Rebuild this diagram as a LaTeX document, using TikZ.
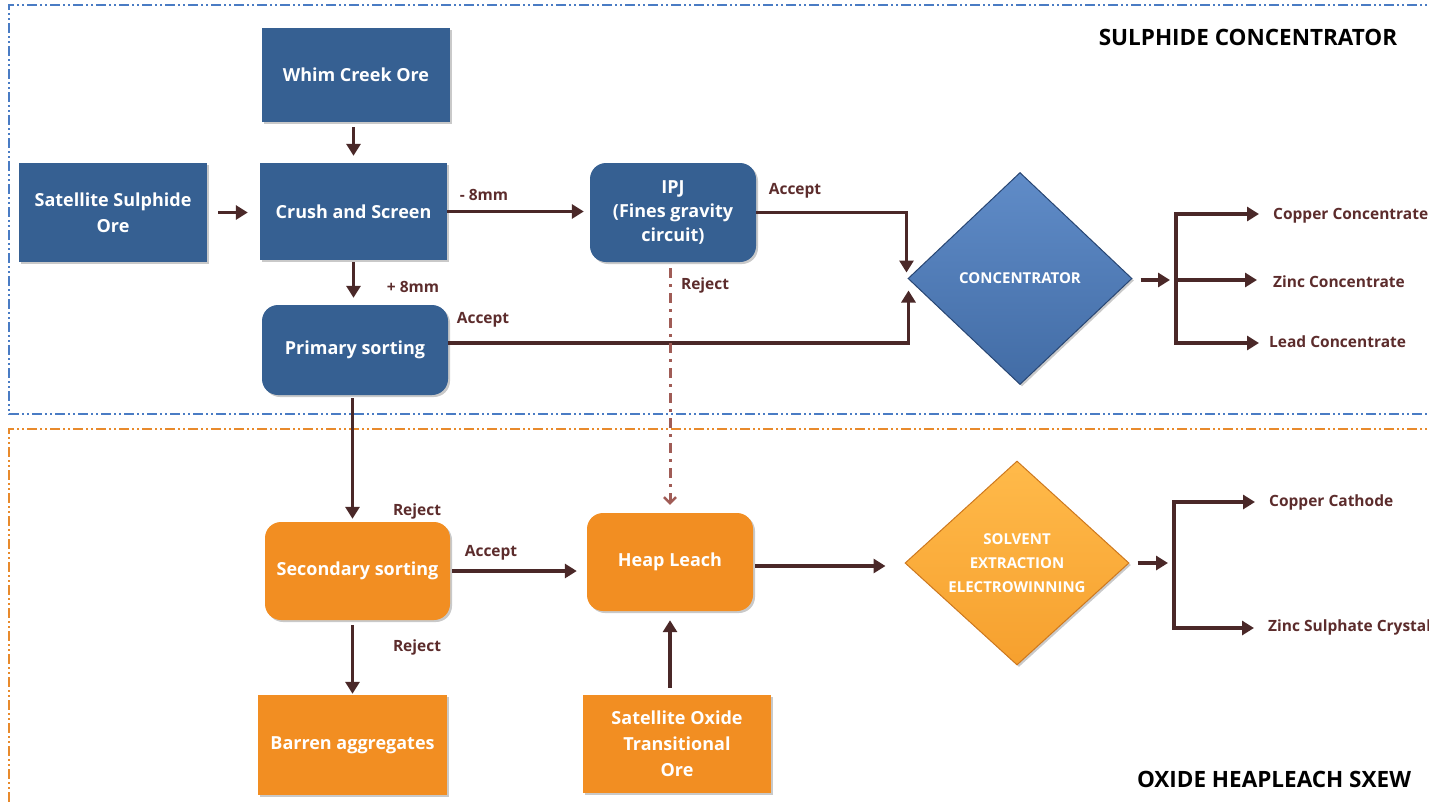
\documentclass[tikz,border=0pt]{standalone}
\usepackage{fontspec}
\setmainfont{Open Sans}
\usetikzlibrary{shapes.geometric,arrows.meta,shadows}
\definecolor{boxblue}{RGB}{54,96,146}
\definecolor{boxorange}{RGB}{242,142,34}
\definecolor{arrbrown}{RGB}{74,40,40}
\definecolor{lblbrown}{RGB}{92,44,44}
\definecolor{rejbrown}{RGB}{160,92,86}
\definecolor{secblue}{RGB}{74,124,196}
\definecolor{secorange}{RGB}{232,138,44}
\definecolor{dialight}{RGB}{96,140,200}
\definecolor{diadark}{RGB}{66,108,165}
\definecolor{diaedge}{RGB}{40,70,115}
\definecolor{sxlight}{RGB}{255,186,74}
\definecolor{sxdark}{RGB}{246,160,46}
\definecolor{sxedge}{RGB}{205,120,30}
\begin{document}
\begin{tikzpicture}[x=1pt,y=-1pt,
  shad/.style={drop shadow={shadow xshift=2pt,shadow yshift=-2pt,opacity=0.3,fill=black!70}},
  box/.style={shad,draw=none,align=center,text=white,inner sep=2pt,
    font=\fontsize{18}{26}\selectfont\bfseries},
  bbox/.style={box,fill=boxblue},
  obox/.style={box,fill=boxorange},
  rbox/.style={rounded corners=16pt},
  lbl/.style={text=lblbrown,font=\fontsize{15.5}{18}\selectfont\bfseries,inner sep=0pt},
  outl/.style={lbl,anchor=west},
  ttl/.style={text=black,font=\fontsize{22.5}{26}\selectfont\bfseries,inner sep=0pt},
  arr/.style={draw=arrbrown,line width=3.5pt,-{Triangle[length=12pt,width=14pt]}},
  brl/.style={draw=arrbrown,line width=3.5pt},
  rej/.style={draw=rejbrown,line width=3pt,dash pattern=on 10pt off 6pt on 3pt off 6pt,
    -{Straight Barb[length=6pt,width=12pt,line width=2.5pt]}},
  sec/.style={line width=1.5pt,dash pattern=on 10pt off 3pt on 2pt off 3pt on 2pt off 3pt},
  dia/.style={diamond,shad,inner sep=0pt,align=center,text=white,
    font=\fontsize{15}{24}\selectfont\bfseries}
]
\useasboundingbox (0,0) rectangle (1429,801);
\clip (0,0) rectangle (1429,801);

% section frames
\draw[sec,secblue] (1440,5) -- (9,5) -- (9,414) -- (1440,414);
\draw[sec,secorange] (1440,429) -- (9,429) -- (9,820);

% titles
\node[ttl] (t1) at (1248,37) {SULPHIDE CONCENTRATOR};
\node[ttl] (t2) at (1274,779) {OXIDE HEAPLEACH SXEW};

% blue nodes
\node[bbox,minimum width=188,minimum height=94] (whim) at (356,75) {Whim Creek Ore};
\node[bbox,minimum width=188,minimum height=99] (sat) at (113,212.5) {Satellite Sulphide\\Ore};
\node[bbox,minimum width=187,minimum height=97] (crush) at (353.5,211.5) {Crush and Screen};
\node[bbox,rbox,minimum width=166,minimum height=99,font=\fontsize{18}{24}\selectfont\bfseries] (ipj) at (673,212.5) {IPJ\\(Fines gravity\\circuit)};
\node[bbox,rbox,minimum width=186,minimum height=90] (prim) at (355,350) {Primary sorting};

% concentrator diamond
\node[dia,minimum width=224,minimum height=212,aspect=1.06,
  top color=dialight,bottom color=diadark,draw=diaedge,line width=1pt] (conc) at (1020,278.5) {CONCENTRATOR};

% orange nodes
\node[obox,rbox,minimum width=185,minimum height=98] (sec) at (357.5,571) {Secondary sorting};
\node[obox,rbox,minimum width=166,minimum height=98] (heap) at (670,562) {Heap Leach};
\node[obox,minimum width=189,minimum height=100] (barren) at (352.5,745) {Barren aggregates};
\node[obox,minimum width=188,minimum height=98] (oxide) at (677,744) {Satellite Oxide\\Transitional\\Ore};

% SX diamond
\node[dia,minimum width=224,minimum height=204,aspect=1.1,
  top color=sxlight,bottom color=sxdark,draw=sxedge,line width=1pt] (sx) at (1017,563) {SOLVENT\\EXTRACTION\\ELECTROWINNING};

% labels
\node[lbl] (lm8) at (484,195) {- 8mm};
\node[lbl] (lp8) at (413,287) {+ 8mm};
\node[lbl] (lacc1) at (795,191) {Accept};
\node[lbl] (lacc2) at (483,320) {Accept};
\node[lbl] (lrej1) at (705,285) {Reject};
\node[lbl] (lrej2) at (417,511) {Reject};
\node[lbl] (lacc3) at (491,553) {Accept};
\node[lbl] (lrej3) at (417,647) {Reject};

\node[outl] (cu) at (1273,216) {Copper Concentrate};
\node[outl] (zn) at (1273,282) {Zinc Concentrate};
\node[outl] (pb) at (1269,342) {Lead Concentrate};
\node[outl] (cuc) at (1269,502) {Copper Cathode};
\node[outl] (zns) at (1268,627) {Zinc Sulphate Crystal};

% connectors upper
\draw[arr,shorten <=5pt,shorten >=7pt] (whim.south -| crush.south) -- (crush.north);
\draw[arr,shorten <=11pt,shorten >=12pt] (sat.east) -- (sat.east -| crush.west);
\draw[arr,shorten >=6pt] (crush.east) -- (crush.east -| ipj.west);
\draw[arr,shorten <=2pt,shorten >=7pt] (crush.south) -- (crush.south |- prim.north);
\draw[arr] (ipj.east) -| ([xshift=-1pt,yshift=6pt]conc.west);
\draw[arr] (prim.east |- 0,343) -| ([xshift=1pt,yshift=-12pt]conc.west);

\coordinate (cb) at (1176,280);
\coordinate (cbt) at (1176,214);
\coordinate (cbb) at (1176,343);
\draw[arr,shorten <=8pt,shorten >=6pt] (conc.east |- cb) -- (cb);
\draw[brl] (cbt) -- (cbb);
\draw[arr,shorten >=14pt] ([xshift=-1.75pt]cbt) -- (cbt -| cu.west);
\draw[arr,shorten >=16pt] (cb) -- (cb -| zn.west);
\draw[arr,shorten >=10pt] ([xshift=-1.75pt]cbb) -- (cbb -| pb.west);

% reject dashed
\draw[rej,shorten <=6pt,shorten >=8pt] (heap.north |- ipj.south) -- (heap.north);

% connectors lower
\draw[arr,shorten <=3pt,shorten >=3pt] (barren.north |- prim.south) -- (barren.north |- sec.north);
\draw[arr,shorten <=5pt,shorten >=1pt] (barren.north |- sec.south) -- (barren.north);
\draw[arr,shorten <=2pt,shorten >=10pt] (sec.east) -- (sec.east -| heap.west);
\draw[arr,shorten <=7pt,shorten >=9pt] (heap.south |- oxide.north) -- (heap.south);
\draw[arr,shorten <=2pt,shorten >=19pt] (heap.east |- 0,566) -- (sx.west |- 0,566);

\coordinate (sb) at (1174,563);
\coordinate (sbt) at (1174,502);
\coordinate (sbb) at (1174,628);
\draw[arr,shorten <=8pt,shorten >=6pt] (sx.east) -- (sb);
\draw[brl] (sbt) -- (sbb);
\draw[arr,shorten >=14pt] ([xshift=-1.75pt]sbt) -- (sbt -| cuc.west);
\draw[arr,shorten >=14pt] ([xshift=-1.75pt]sbb) -- (sbb -| zns.west);
\end{tikzpicture}
\end{document}
